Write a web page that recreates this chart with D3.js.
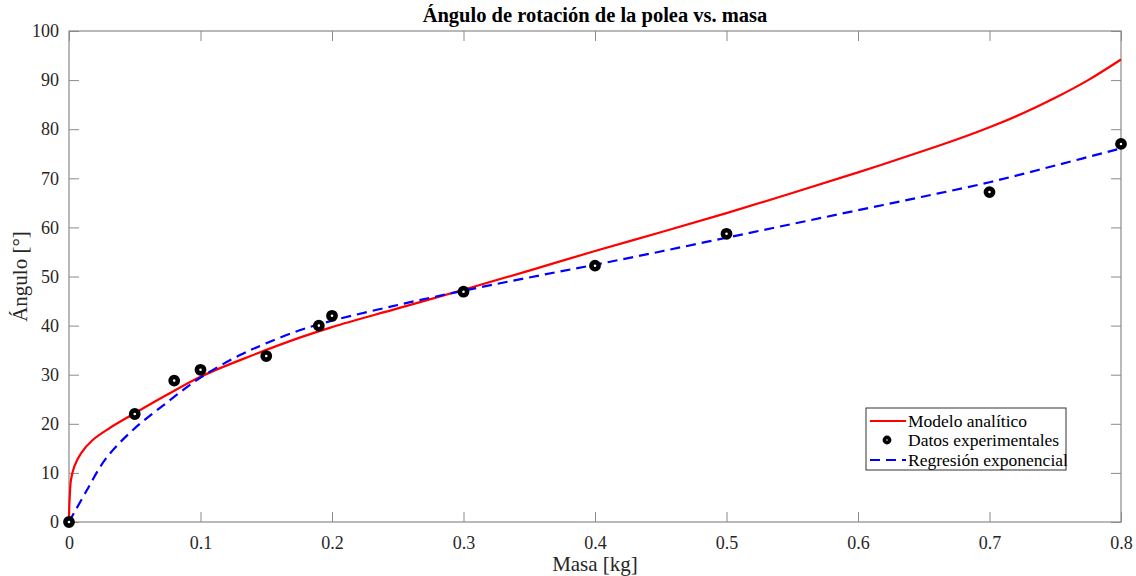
<!DOCTYPE html>
<html>
<head>
<meta charset="utf-8">
<script src="https://cdn.jsdelivr.net/npm/d3@7"></script>
<style>
  body { margin: 0; background: #fff; }
  text { font-family: "Liberation Serif", "Times New Roman", serif; }
</style>
</head>
<body>
<div id="chart"></div>
<script>
// Experimental points
const massData  = [0, 0.05, 0.08, 0.1, 0.15, 0.19, 0.2, 0.3, 0.4, 0.5, 0.7, 0.8];
const angleData = [0, 22.0, 28.8, 31.0, 33.8, 40.0, 42.0, 46.9, 52.2, 58.7, 67.2, 77.0];

// Analytic model curve
const modelMass  = [0, 0.0002, 0.0006, 0.0015, 0.004, 0.0091, 0.018, 0.0307, 0.0484, 0.0738, 0.1, 0.138, 0.176, 0.2, 0.25, 0.3, 0.35, 0.4, 0.45, 0.5, 0.55, 0.6, 0.65, 0.675, 0.7, 0.725, 0.75, 0.775, 0.8];
const modelAngle = [0, 3.0, 5.4, 8.6, 11.3, 14.0, 16.7, 19.1, 21.9, 25.8, 29.6, 33.8, 37.6, 39.7, 43.5, 47.3, 51.2, 55.2, 59.0, 62.9, 67.0, 71.2, 75.6, 77.9, 80.4, 83.2, 86.4, 90.0, 94.2];

// Exponential regression curve
const regMass  = [0, 0.013, 0.028, 0.0484, 0.0738, 0.1, 0.13, 0.15, 0.176, 0.2, 0.25, 0.3, 0.35, 0.4, 0.45, 0.5, 0.55, 0.6, 0.65, 0.7, 0.75, 0.8];
const regAngle = [0, 6.2, 12.9, 18.7, 24.2, 29.4, 34.0, 36.4, 39.1, 41.0, 44.2, 47.1, 49.8, 52.4, 55.1, 57.9, 60.7, 63.5, 66.3, 69.2, 72.6, 76.1];

const xTicks = [0, 0.1, 0.2, 0.3, 0.4, 0.5, 0.6, 0.7, 0.8];
const yTicks = [0, 10, 20, 30, 40, 50, 60, 70, 80, 90, 100];

const legendLabels = ["Modelo analítico", "Datos experimentales", "Regresión exponencial"];

const W = 1136, H = 576;
const margin = { top: 31, right: 15, bottom: 54, left: 69 },
    width = W - margin.left - margin.right,
    height = H - margin.top - margin.bottom;

const svg = d3.select("#chart")
    .append("svg")
    .attr("width", W)
    .attr("height", H);

const g = svg.append("g")
    .attr("transform", `translate(${margin.left},${margin.top})`);

const x = d3.scaleLinear().domain([0, 0.8]).range([0, width]);
const y = d3.scaleLinear().domain([0, 100]).range([height, 0]);

const axisColor = "#8a8a8a";
const labelColor = "#262626";

// axes with inward ticks on all four sides
function styleAxis(sel) {
    sel.select(".domain").remove();
    sel.selectAll("line").attr("stroke", axisColor);
    sel.selectAll("text")
        .attr("fill", labelColor)
        .style("font-size", "18px");
}

g.append("g")
    .attr("transform", `translate(0,${height})`)
    .call(d3.axisBottom(x).tickValues(xTicks).tickSize(-10).tickPadding(14)
        .tickFormat(d => d === 0 ? "0" : d3.format(".1f")(d)))
    .call(styleAxis);

g.append("g")
    .call(d3.axisTop(x).tickValues(xTicks).tickSize(-10).tickFormat(""))
    .call(styleAxis);

g.append("g")
    .call(d3.axisLeft(y).tickValues(yTicks).tickSize(-10).tickPadding(10))
    .call(styleAxis);

g.append("g")
    .attr("transform", `translate(${width},0)`)
    .call(d3.axisRight(y).tickValues(yTicks).tickSize(-10).tickFormat(""))
    .call(styleAxis);

// box
g.append("rect")
    .attr("width", width)
    .attr("height", height)
    .attr("fill", "none")
    .attr("stroke", axisColor)
    .attr("stroke-width", 1.2);

const line = d3.line()
    .curve(d3.curveCatmullRom.alpha(0.5))
    .x(d => x(d[0]))
    .y(d => y(d[1]));

// analytic model
g.append("path")
    .datum(d3.zip(modelMass, modelAngle))
    .attr("fill", "none")
    .attr("stroke", "#ff0000")
    .attr("stroke-width", 2.2)
    .attr("d", line);

// exponential regression
g.append("path")
    .datum(d3.zip(regMass, regAngle))
    .attr("fill", "none")
    .attr("stroke", "#0000ff")
    .attr("stroke-width", 2.2)
    .attr("stroke-dasharray", "10,6")
    .attr("d", line);

// experimental data
g.selectAll(".pt")
    .data(d3.zip(massData, angleData))
    .enter().append("circle")
    .attr("class", "pt")
    .attr("cx", d => x(d[0]))
    .attr("cy", d => y(d[1]))
    .attr("r", 3.6)
    .attr("fill", "#fff")
    .attr("stroke", "#000")
    .attr("stroke-width", 4.6);

// title and axis labels
svg.append("text")
    .attr("x", margin.left + width / 2)
    .attr("y", 22)
    .attr("text-anchor", "middle")
    .style("font-size", "20.5px")
    .style("font-weight", "bold")
    .attr("fill", "#000")
    .text("Ángulo de rotación de la polea vs. masa");

svg.append("text")
    .attr("x", margin.left + width / 2)
    .attr("y", 571)
    .attr("text-anchor", "middle")
    .style("font-size", "21px")
    .attr("fill", labelColor)
    .text("Masa [kg]");

svg.append("text")
    .attr("transform", `translate(27,${margin.top + height / 2}) rotate(-90)`)
    .attr("text-anchor", "middle")
    .style("font-size", "21px")
    .attr("fill", labelColor)
    .text("Ángulo [°]");

// legend
const lg = svg.append("g").attr("transform", "translate(866,408)");
lg.append("rect")
    .attr("width", 200)
    .attr("height", 62)
    .attr("fill", "#fff")
    .attr("stroke", "#333")
    .attr("stroke-width", 1);

const rowY = [13, 32, 52];
lg.append("line")
    .attr("x1", 4).attr("x2", 40).attr("y1", rowY[0]).attr("y2", rowY[0])
    .attr("stroke", "#ff0000").attr("stroke-width", 2.2);
lg.append("circle")
    .attr("cx", 21).attr("cy", rowY[1]).attr("r", 2.6)
    .attr("fill", "#fff").attr("stroke", "#000").attr("stroke-width", 3.6);
lg.append("line")
    .attr("x1", 4).attr("x2", 40).attr("y1", rowY[2]).attr("y2", rowY[2])
    .attr("stroke", "#0000ff").attr("stroke-width", 2.2)
    .attr("stroke-dasharray", "10,6");

lg.selectAll(".lt")
    .data(legendLabels)
    .enter().append("text")
    .attr("class", "lt")
    .attr("x", 42)
    .attr("y", (d, i) => rowY[i])
    .attr("dy", "0.35em")
    .style("font-size", "17.5px")
    .attr("fill", "#000")
    .text(d => d);
</script>
</body>
</html>
